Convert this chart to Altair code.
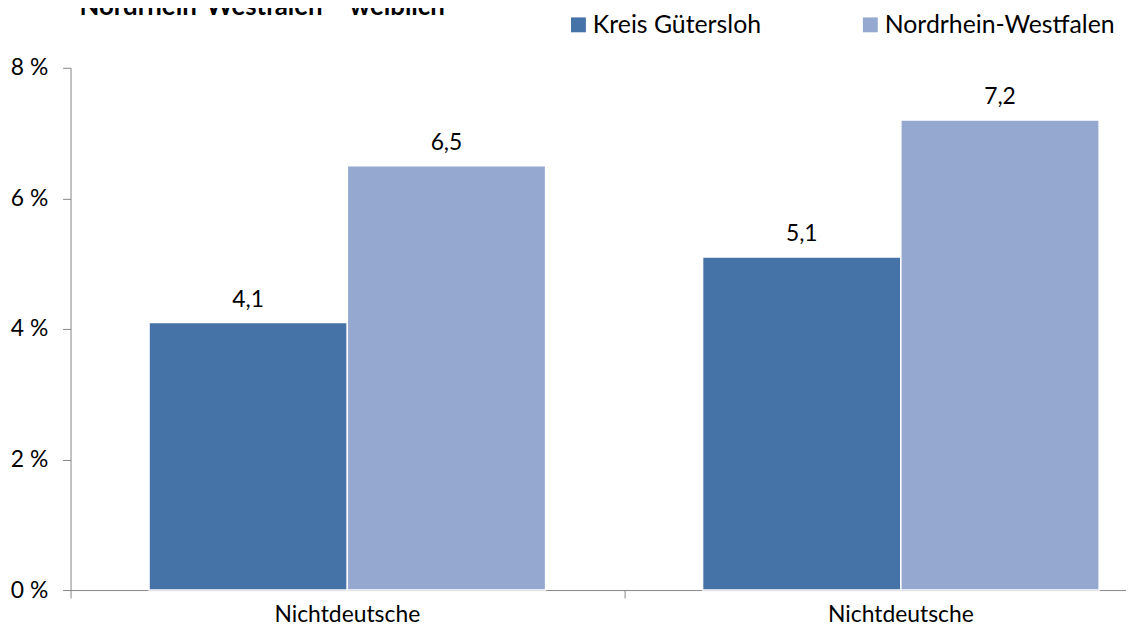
import altair as alt
import pandas as pd

title_text = "Nordrhein-Westfalen – weiblich"
categories = ["Nichtdeutsche", "Nichtdeutsche"]
series_names = ["Kreis Gütersloh", "Nordrhein-Westfalen"]
kreis_values = [4.1, 5.1]
nrw_values = [6.5, 7.2]
series_colors = ["#4572A7", "#95A9D0"]
y_ticks = [0, 2, 4, 6, 8]

rows = []
for g, cat in enumerate(categories):
    for s, (name, vals) in enumerate(zip(series_names, [kreis_values, nrw_values])):
        rows.append({"group": g, "category": cat, "series": name, "s": s, "value": vals[g]})
df = pd.DataFrame(rows)
cat_df = pd.DataFrame({"category": categories, "group": list(range(len(categories)))})

W, H = 1063, 526
BAND_PX = 557.5
PAD_OUTER = 0.1418
BAR_W = 0.3582
FONT = "Lato"
AXIS_GRAY = "#878787"

xscale = alt.Scale(domain=[0, W / BAND_PX], nice=False, zero=False, padding=0)
yscale = alt.Scale(domain=[0, 8], nice=False, padding=0)

base = alt.Chart(df).transform_calculate(
    x0=f"datum.group + {PAD_OUTER} + datum.s * {BAR_W}",
    x1=f"datum.group + {PAD_OUTER} + (datum.s + 1) * {BAR_W}",
    xc=f"datum.group + {PAD_OUTER} + (datum.s + 0.5) * {BAR_W}",
    label="replace(format(datum.value, '.1f'), '.', ',')",
)

bars = base.mark_bar(stroke="white", strokeWidth=1.5).encode(
    x=alt.X(
        "x0:Q",
        scale=xscale,
        axis=alt.Axis(values=[0, 1], labels=False, ticks=True, tickSize=8, grid=False,
                      title=None, domainColor=AXIS_GRAY, tickColor=AXIS_GRAY),
    ),
    x2="x1:Q",
    y=alt.Y(
        "value:Q",
        scale=yscale,
        axis=alt.Axis(values=y_ticks, labelExpr="datum.value + ' %'", tickSize=8, grid=False,
                      title=None, domainColor=AXIS_GRAY, tickColor=AXIS_GRAY,
                      labelPadding=15, labelFontSize=23, labelFont=FONT, labelColor="black"),
    ),
    y2=alt.datum(0),
    color=alt.Color(
        "series:N",
        scale=alt.Scale(domain=series_names, range=series_colors),
        legend=alt.Legend(orient="none", legendX=499, legendY=-56, direction="horizontal",
                          title=None, symbolType="square", symbolSize=225, symbolStrokeWidth=0,
                          labelFontSize=25, labelFont=FONT, labelOffset=2, columnPadding=97,
                          labelLimit=0, padding=0, labelColor="black"),
    ),
)

value_labels = base.mark_text(fontSize=23, font=FONT, dy=-16, baseline="alphabetic", color="black").encode(
    x="xc:Q", y="value:Q", text="label:N"
)

cat_labels = alt.Chart(cat_df).transform_calculate(xm="datum.group + 0.5").mark_text(
    fontSize=23, font=FONT, baseline="alphabetic", color="black"
).encode(x="xm:Q", y=alt.value(H + 32), text="category:N")

title = alt.Chart(pd.DataFrame({"t": [title_text]})).mark_text(
    align="left", baseline="alphabetic", fontSize=26, fontWeight="bold", font=FONT, color="black"
).encode(x=alt.value(9), y=alt.value(-53), text="t:N")

chart = alt.layer(bars, value_labels, cat_labels, title).properties(
    width=W, height=H,
    autosize=alt.AutoSizeParams(type="none"),
    padding={"left": 63, "top": 58, "right": 0, "bottom": 37},
).configure_view(stroke=None)

chart.save("out.html", embed_options={"renderer": "svg", "actions": False})
